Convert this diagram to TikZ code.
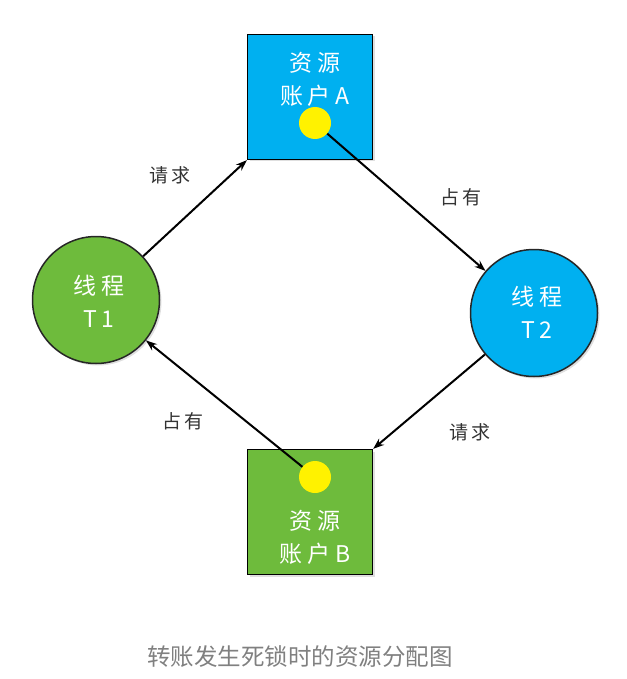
\documentclass[tikz,border=0pt]{standalone}
\usepackage{fontspec}
\usepackage{xcolor}
\usetikzlibrary{arrows.meta,shadows}
\newfontfamily\cjk{Noto Sans CJK SC}
\newfontfamily\cjkwide[LetterSpace=20]{Noto Sans CJK SC}
\definecolor{resblue}{RGB}{0,176,240}
\definecolor{resgreen}{RGB}{110,187,60}
\definecolor{dotyellow}{RGB}{255,242,0}
\definecolor{captiongray}{RGB}{128,128,128}

\begin{document}
\begin{tikzpicture}[x=1pt,y=-1pt,
    resbox/.style={draw=black,line width=1.3pt,minimum size=125pt,inner sep=0pt,
        drop shadow={opacity=0.25,shadow xshift=2pt,shadow yshift=-2pt}},
    thread/.style={circle,draw=black!85,line width=1.5pt,minimum size=127pt,inner sep=0pt,
        drop shadow={opacity=0.25,shadow xshift=2pt,shadow yshift=-2pt}},
    holddot/.style={circle,fill=dotyellow,minimum size=32pt,inner sep=0pt},
    intext/.style={text=white,align=center,font=\cjkwide\fontsize{23}{33}\selectfont},
    edgetext/.style={text=black!80,font=\cjkwide\fontsize{19}{22}\selectfont},
    arr/.style={-{Stealth[length=11pt,width=8pt]},line width=2pt}]
    \useasboundingbox (0,0) rectangle (626,679);
    \node[resbox,fill=resblue] (resA) at (310,97) {};
    \node[resbox,fill=resgreen] (resB) at (310,512) {};
    \node[thread,fill=resgreen] (t1) at (96,300) {};
    \node[thread,fill=resblue] (t2) at (534,313) {};
    \node[intext] at (315,79) {资源\\账户A};
    \node[intext] at (315,537) {资源\\账户B};
    \node[intext] at (99,301) {线程\\T1};
    \node[intext] at (537,312) {线程\\T2};
    \node[holddot] (dotA) at (315,123) {};
    \node[holddot] (dotB) at (315,477) {};
    % request and hold edges
    \draw[arr] (t1) -- (resA.south west);
    \draw[arr] (dotA) -- (t2);
    \draw[arr] (t2) -- (resB.north east);
    \draw[arr] (dotB) -- (t1);
    \node[edgetext] at (170,175) {请求};
    \node[edgetext] at (461,197) {占有};
    \node[edgetext] at (470,432) {请求};
    \node[edgetext] at (183,421) {占有};
    \node[text=captiongray,font=\cjk\fontsize{23.5}{28}\selectfont] (caption) at (300,657) {转账发生死锁时的资源分配图};
\end{tikzpicture}
\end{document}
